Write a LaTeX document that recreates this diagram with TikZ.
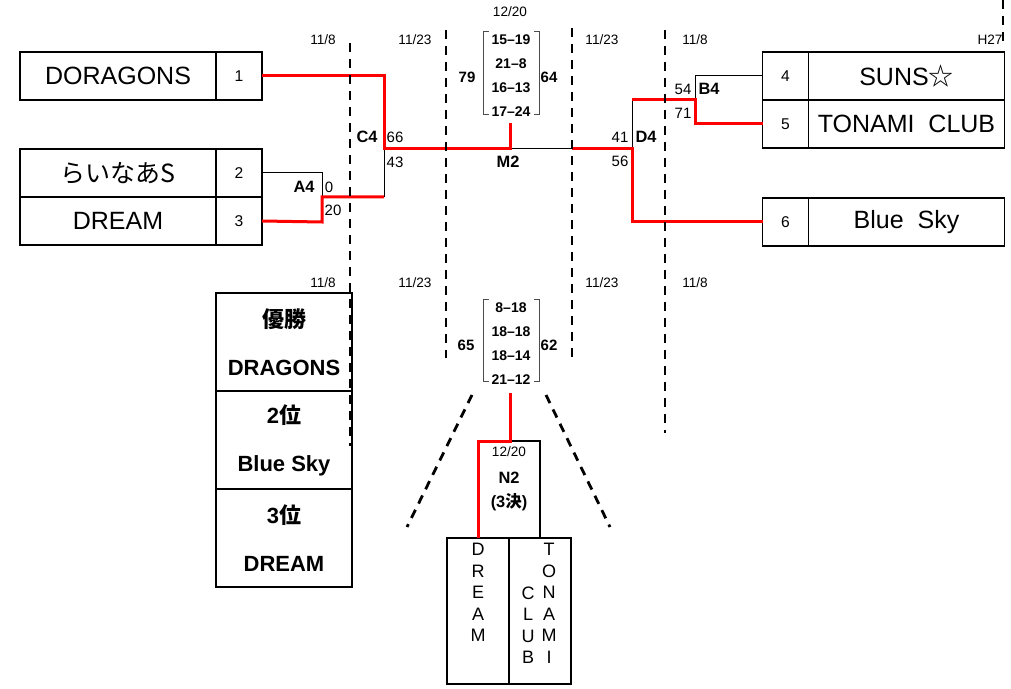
\documentclass[tikz,border=0pt]{standalone}
\usepackage{fontspec}
\setmainfont{Liberation Sans}
\newfontfamily\jp{Noto Sans CJK JP}
\usetikzlibrary{positioning}
\tikzset{
  namecell/.style={draw,line width=0.55pt,minimum width=98pt,minimum height=24pt,inner sep=0pt,outer sep=0pt,font=\fontsize{12.5}{15}\selectfont},
  numcell/.style={namecell,minimum width=23pt,font=\fontsize{7.8}{9}\selectfont},
  resbox/.style={draw,line width=0.55pt,minimum width=68pt,minimum height=49pt,inner sep=0pt,outer sep=0pt,align=center,font=\bfseries\fontsize{11}{24}\selectfont},
  vbox/.style={draw,line width=0.55pt,minimum width=31pt,minimum height=73pt,inner sep=0pt,outer sep=0pt},
  vtext/.style={inner sep=0pt,align=center,anchor=north,font=\fontsize{9}{10.75}\selectfont},
  daylab/.style={inner sep=0pt,font=\fontsize{6.8}{8}\selectfont},
  scr/.style={inner sep=0pt,font=\fontsize{7.5}{9}\selectfont},
  mlab/.style={inner sep=0pt,font=\bfseries\fontsize{8.2}{10}\selectfont},
  setsc/.style={inner sep=0pt,align=center,font=\bfseries\fontsize{7}{12}\selectfont},
  tot/.style={inner sep=0pt,font=\bfseries\fontsize{7.5}{9}\selectfont},
  brkbox/.style={inner sep=0pt,minimum width=27.5pt},
  brk/.style={draw=black!70,line width=0.4pt},
  bline/.style={line width=0.5pt},
  rline/.style={red,line width=1.5pt},
  dline/.style={line width=1.4pt,dash pattern=on 4.5pt off 3.5pt},
}
\begin{document}
\begin{tikzpicture}[x=0.5pt,y=-0.5pt]
\useasboundingbox (0,0) rectangle (1011,689);

% teams, left
\node[namecell] (t1) at (118,76) {DORAGONS};
\node[numcell,right=0pt of t1] (n1) {1};
\node[namecell] (t2) at (118,173) {\jp\fontsize{12.5}{14}\selectfont らいなあS};
\node[namecell,below=0pt of t2] (t3) {DREAM};
\node[numcell,right=0pt of t2] (n2) {2};
\node[numcell,right=0pt of t3] (n3) {3};

% teams, right
\node[numcell] (n4) at (785.5,76) {4};
\node[namecell,right=0pt of n4] (t4) {SUNS{\jp ☆}};
\node[numcell,below=0pt of n4] (n5) {5};
\node[namecell,right=0pt of n5] (t5) {TONAMI\ \ CLUB};
\node[numcell] (n6) at (785.5,222) {6};
\node[namecell,right=0pt of n6] (t6) {Blue\ \ Sky};

% result table
\node[resbox] (r1) at (284,342) {{\jp 優勝}\\DRAGONS};
\node[resbox,below=0pt of r1] (r2) {2{\jp 位}\\Blue Sky};
\node[resbox,below=0pt of r2] (r3) {3{\jp 位}\\DREAM};

% bracket points
\coordinate (a4t) at (322,173);
\coordinate (a4b) at (322,222);
\coordinate (a4o) at (322,197);
\coordinate (c4t) at (384,76);
\coordinate (c4b) at (384,197);
\coordinate (c4o) at (384,149);
\coordinate (m2) at (510,149);
\coordinate (m2w) at (510,123);
\coordinate (m2r) at (572,149);
\coordinate (d4t) at (632,100);
\coordinate (d4b) at (632,222);
\coordinate (d4o) at (632,149);
\coordinate (b4t) at (695,76);
\coordinate (b4b) at (695,124);
\coordinate (b4o) at (695,100);
\coordinate (n3a) at (510,393);

\draw[bline] (n2.east) -- (a4t) -- (a4o);
\draw[bline] (c4o) -- (c4b);
\draw[bline] (m2) -- (m2r);
\draw[bline] (d4t) -- (d4o);
\draw[bline] (n4.west) -- (b4t) -- (b4o);

\draw[rline] (n1.east) -- (c4t) -- (c4o) -- (m2) -- (m2w);
\draw[rline] (n3.east) -- (a4b) -- (a4o) -- (c4b);
\draw[rline] (n5.west) -- (b4b) -- (b4o) -- (d4t);
\draw[rline] (n6.west) -- (d4b) -- (d4o) -- (m2r);

% match labels
\node[mlab] (a4) at (304,187) {A4};
\node[scr] at (329,187) {0};
\node[scr] at (333,210) {20};
\node[mlab] (c4) at (367,137) {C4};
\node[scr] at (395,137) {66};
\node[scr] at (395,162) {43};
\node[mlab] (m2l) at (508,162) {M2};
\node[scr] at (683,89) {54};
\node[mlab] (b4) at (709,89) {B4};
\node[scr] at (683,113) {71};
\node[scr] at (620,137) {41};
\node[mlab] (d4) at (646,137) {D4};
\node[scr] at (620,161) {56};

% final sets
\node[daylab] at (510,12) {12/20};
\node[setsc] (s1) at (511,76) {15--19\\21--8\\16--13\\17--24};
\node[brkbox,minimum height=41pt] (bk1) at (511.5,73) {};
\draw[brk] ([xshift=2.5pt]bk1.north west) -- (bk1.north west) -- (bk1.south west) -- ++(2.5pt,0);
\draw[brk] ([xshift=-2.5pt]bk1.north east) -- (bk1.north east) -- (bk1.south east) -- ++(-2.5pt,0);
\node[tot] at (467,77) {79};
\node[tot] at (549,77) {64};

% third place sets
\node[setsc] (s2) at (511,344) {8--18\\18--18\\18--14\\21--12};
\node[brkbox,minimum height=40.5pt] (bk2) at (511.5,340.5) {};
\draw[brk] ([xshift=2.5pt]bk2.north west) -- (bk2.north west) -- (bk2.south west) -- ++(2.5pt,0);
\draw[brk] ([xshift=-2.5pt]bk2.north east) -- (bk2.north east) -- (bk2.south east) -- ++(-2.5pt,0);
\node[tot] at (466,345) {65};
\node[tot] at (549,345) {62};

% third place match
\node[vbox,minimum height=48.5pt] (n2b) at (509,489.5) {};
\node[daylab] at (509,452) {12/20};
\node[mlab] at (509,478) {N2};
\node[mlab] at (509,502) {(3{\jp\bfseries 決})};
\node[vbox] (dr) at (478,611) {};
\node[vbox,right=0pt of dr] (tc) {};
\node[vtext] at (478,543) {D\\R\\E\\A\\M};
\node[vtext] at (549,543) {T\\O\\N\\A\\M\\I};
\node[vtext] at (528,586.5) {C\\L\\U\\B};
\draw[rline] (n3a) -- (n3a |- n2b.north) -- (n2b.north west) -- (dr.north);

% dates
\node[daylab] at (323,40) {11/8};
\node[daylab] at (415,40) {11/23};
\node[daylab] at (602,40) {11/23};
\node[daylab] at (695,40) {11/8};
\node[daylab] at (990,40) {H27};
\node[daylab] at (323,283) {11/8};
\node[daylab] at (415,283) {11/23};
\node[daylab] at (602,283) {11/23};
\node[daylab] at (695,283) {11/8};

% dashed round lines
\draw[dline] (350,43) -- (350,446);
\draw[dline] (446,30) -- (446,358);
\draw[dline] (572,28) -- (572,357);
\draw[dline] (665,30) -- (665,433);
\draw[dline] (1003,0) -- (1003,42);
\draw[dline] (472,395) -- (407,527);
\draw[dline] (546,395) -- (610,527);
\end{tikzpicture}
\end{document}
